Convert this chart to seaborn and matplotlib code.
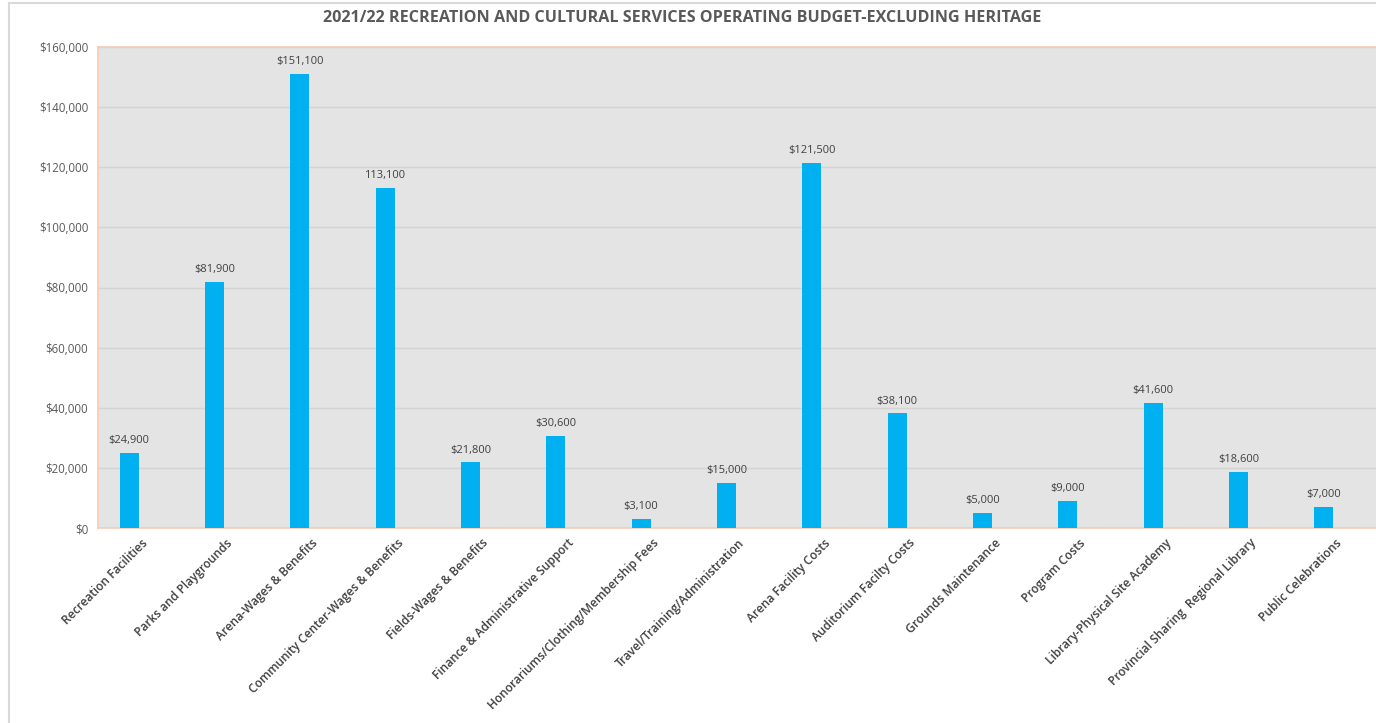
import matplotlib
matplotlib.use("Agg")
import matplotlib.pyplot as plt
from matplotlib.patches import Rectangle
from matplotlib.ticker import FuncFormatter, MultipleLocator
import seaborn as sns
import pandas as pd

categories = [
    "Recreation Facilities",
    "Parks and Playgrounds",
    "Arena-Wages & Benefits",
    "Community Center-Wages & Benefits",
    "Fields-Wages & Benefits",
    "Finance & Administrative Support",
    "Honorariums/Clothing/Membership Fees",
    "Travel/Training/Administration",
    "Arena Facility Costs",
    "Auditorium Facilty Costs",
    "Grounds Maintenance",
    "Program Costs",
    "Library-Physical Site Academy",
    "Provincial Sharing  Regional Library",
    "Public Celebrations",
]
budget = [24900, 81900, 151100, 113100, 21800, 30600, 3100, 15000,
          121500, 38100, 5000, 9000, 41600, 18600, 7000]
other = [0] * len(categories)
label_prefix = ["$", "$", "$", "", "$", "$", "$", "$",
                "$", "$", "$", "$", "$", "$", "$"]

series_names = ["Budget 2021/22", "Other"]

df = pd.DataFrame({
    "Category": categories * 2,
    "Amount": budget + other,
    "Series": [series_names[0]] * len(categories) + [series_names[1]] * len(categories),
})

sns.set_theme(style="white")
plt.rcParams["font.family"] = ["Open Sans", "DejaVu Sans"]

fig = plt.figure(figsize=(13.76, 7.23), dpi=100)
ax = fig.add_axes([98 / 1376, 1 - 528 / 723, 1280 / 1376, (528 - 47) / 723])

bar_blue = "#00b0f0"
peach = "#f4cdb4"

sns.barplot(
    data=df, x="Category", y="Amount", hue="Series",
    order=categories, hue_order=series_names,
    palette=[bar_blue, peach], width=0.545, gap=0.18,
    dodge=True, legend=False, ax=ax, saturation=1,
    edgecolor="none", zorder=3,
)
# zero-valued companion bars show only as a faint line at the base
for patch in ax.containers[1]:
    patch.set_edgecolor(peach)
    patch.set_linewidth(1.2)

ax.set_facecolor("#e4e4e4")
ax.set_xlim(-0.5, len(categories) - 0.5)
ax.set_ylim(0, 160000)
ax.yaxis.set_major_locator(MultipleLocator(20000))
ax.yaxis.set_major_formatter(FuncFormatter(lambda v, p: f"${v:,.0f}"))
ax.grid(axis="y", color="#d4d4d4", linewidth=1, zorder=0)
ax.set_axisbelow(True)

for side in ["left", "top", "bottom", "right"]:
    ax.spines[side].set_color(peach)
    ax.spines[side].set_linewidth(1.2)

ax.tick_params(axis="y", length=0, pad=7, labelsize=8.3, labelcolor="#595959")
ax.tick_params(axis="x", length=0, pad=6, labelsize=8.6, labelcolor="#404040")
ax.set_xticks(range(len(categories)))
ax.set_xticklabels(categories, rotation=45, ha="right", rotation_mode="anchor",
                   fontweight="semibold")
ax.set_xlabel("")
ax.set_ylabel("")

for patch, value, prefix in zip(ax.containers[0], budget, label_prefix):
    ax.annotate(f"{prefix}{value:,}",
                (patch.get_x() + patch.get_width() / 2, patch.get_height()),
                xytext=(0, 5), textcoords="offset points",
                ha="center", va="bottom", fontsize=8, color="#404040")

fig.text(682 / 1376, 1 - 18 / 723,
         "2021/22 RECREATION AND CULTURAL SERVICES OPERATING BUDGET-EXCLUDING HERITAGE",
         ha="center", va="center", fontsize=11.6, fontweight="bold", color="#595959")

fig.add_artist(Rectangle((9 / 1376, -0.05), 1.1, 1.05 - 3 / 723,
                         transform=fig.transFigure, fill=False,
                         edgecolor="#d9d9d9", linewidth=1.5))

fig.savefig("out.png", dpi=100)
